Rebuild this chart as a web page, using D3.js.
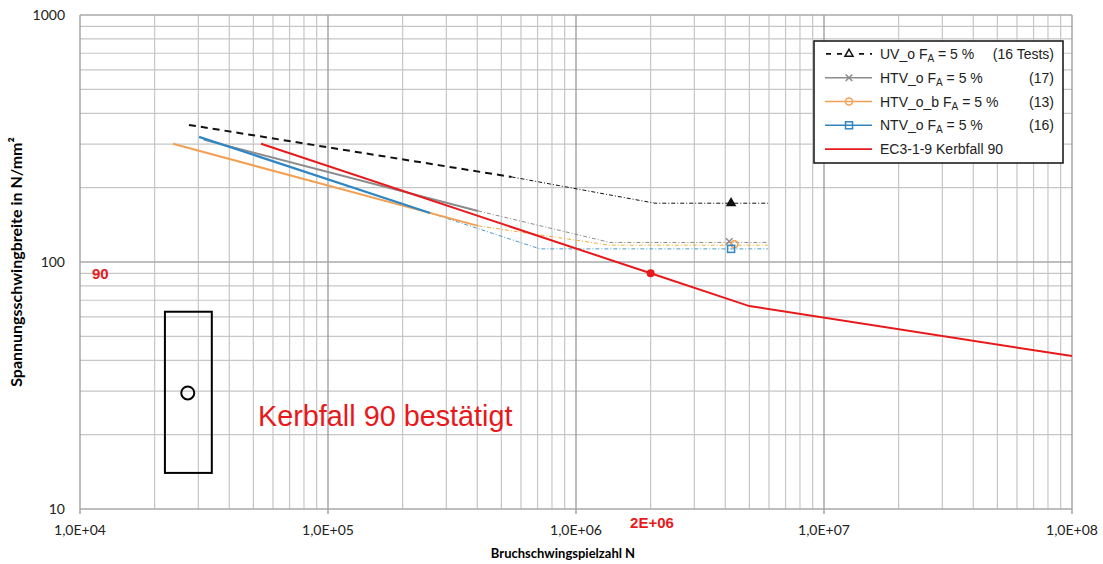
<!DOCTYPE html>
<html>
<head>
<meta charset="utf-8">
<script src="https://cdn.jsdelivr.net/npm/d3@7"></script>
<style>
  body { margin: 0; background: #fff; }
  text { font-family: "Liberation Sans", Arial, sans-serif; }
  .ax { font-family: Lato, "Liberation Sans", sans-serif; font-size: 14px; fill: #222; }
</style>
</head>
<body>
<div id="chart"></div>
<script>
// --- donnees ---
const xTicks = [1e4, 1e5, 1e6, 1e7, 1e8];
const xTickLabels = ["1,0E+04", "1,0E+05", "1,0E+06", "1,0E+07", "1,0E+08"];
const yTicks = [10, 100, 1000];
const yTickLabels = ["10", "100", "1000"];

// UV_o : partie tiretée + prolongement
const uvN = [2.75e4, 5.5e5];
const uvS = [359, 221];
const uvExtN = [5.5e5, 2.08e6, 5.94e6];
const uvExtS = [221, 173, 173];

// HTV_o
const htvN = [3.15e4, 4.03e5];
const htvS = [313, 161];
const htvExtN = [4.03e5, 1.37e6, 5.94e6];
const htvExtS = [161, 120, 120];

// HTV_o_b
const htvbN = [2.37e4, 4.03e5];
const htvbS = [301, 140];
const htvbExtN = [4.03e5, 1.37e6, 5.94e6];
const htvbExtS = [140, 117, 117];

// NTV_o
const ntvN = [3.02e4, 2.58e5];
const ntvS = [321, 158];
const ntvExtN = [2.58e5, 7.16e5, 5.94e6];
const ntvExtS = [158, 113, 113];

// marqueurs a N = 4,2E+06
const markN = [4.22e6, 4.15e6, 4.35e6, 4.22e6];
const markS = [173, 121, 118, 113];

// EC3-1-9 Kerbfall 90
const ecN = [5.37e4, 2e6, 5e6, 1e8];
const ecS = [301, 90, 66.3, 41.6];

// rectangle et cercle (zone de gauche)
const boxN = [2.2e4, 3.4e4];
const boxS = [14, 62.9];
const circN = 2.72e4, circS = 29.5;

const legendLabels = ["UV_o F", "HTV_o F", "HTV_o_b F", "NTV_o F", "EC3-1-9 Kerbfall 90"];
const legendCounts = ["(16 Tests)", "(17)", "(13)", "(16)", ""];

const W = 1103, H = 564;
const svg = d3.select("#chart").append("svg").attr("width", W).attr("height", H);

const x = d3.scaleLog().domain([1e4, 1e8]).range([80, 1072]);
const y = d3.scaleLog().domain([10, 1000]).range([509, 15]);

// grille
const minorX = [], minorY = [];
for (let d = 1e4; d < 1e8; d *= 10) for (let k = 2; k <= 9; k++) minorX.push(d * k);
for (let d = 10; d < 1000; d *= 10) for (let k = 2; k <= 9; k++) minorY.push(d * k);

const grid = svg.append("g");
grid.selectAll(".mx").data(minorX).join("line")
  .attr("x1", d => x(d)).attr("x2", d => x(d)).attr("y1", y(10)).attr("y2", y(1000))
  .attr("stroke", "#c6c6c6").attr("stroke-width", 1.2);
grid.selectAll(".my").data(minorY).join("line")
  .attr("y1", d => y(d)).attr("y2", d => y(d)).attr("x1", x(1e4)).attr("x2", x(1e8))
  .attr("stroke", "#c6c6c6").attr("stroke-width", 1.2);
grid.selectAll(".dx").data(xTicks).join("line")
  .attr("x1", d => x(d)).attr("x2", d => x(d)).attr("y1", y(10)).attr("y2", y(1000) )
  .attr("stroke", "#9a9a9a").attr("stroke-width", 1.3);
grid.selectAll(".dy").data(yTicks).join("line")
  .attr("y1", d => y(d)).attr("y2", d => y(d)).attr("x1", x(1e4)).attr("x2", x(1e8))
  .attr("stroke", "#a8a8a8").attr("stroke-width", 1.3);

// petits traits sous l'axe x
svg.append("g").selectAll("line").data(xTicks).join("line")
  .attr("x1", d => x(d)).attr("x2", d => x(d)).attr("y1", y(10)).attr("y2", y(10) + 5)
  .attr("stroke", "#9a9a9a").attr("stroke-width", 1.3);

// etiquettes des axes
svg.append("g").selectAll("text").data(xTicks).join("text")
  .attr("class", "ax").attr("x", d => x(d)).attr("y", 535).attr("text-anchor", "middle")
  .text((d, i) => xTickLabels[i]);
svg.append("g").selectAll("text").data(yTicks).join("text")
  .attr("class", "ax").attr("x", 65).attr("y", d => y(d) + 5).attr("text-anchor", "end")
  .text((d, i) => yTickLabels[i]);

svg.append("text").attr("x", 563).attr("y", 558).attr("text-anchor", "middle")
  .style("font-family", "Lato, sans-serif").style("font-weight", "bold").style("font-size", "13px")
  .text("Bruchschwingspielzahl N");
svg.append("text").attr("transform", "translate(22,262) rotate(-90)").attr("text-anchor", "middle")
  .style("font-family", "Lato, sans-serif").style("font-weight", "bold").style("font-size", "16px")
  .text("Spannungsschwingbreite in N/mm²");

const line = d3.line().x(d => x(d[0])).y(d => y(d[1]));
const zipD = (a, b) => a.map((v, i) => [v, b[i]]);

const cUV = "#111", cHTV = "#8c8c8c", cHTVb = "#f2a154", cNTV = "#2f86c4", cEC = "#e8191b";

// prolongements en tiret-point
[[uvExtN, uvExtS, cUV], [htvExtN, htvExtS, cHTV], [htvbExtN, htvbExtS, "#f0b040"], [ntvExtN, ntvExtS, "#4a9ad0"]]
  .forEach(s => {
    svg.append("path").attr("d", line(zipD(s[0], s[1]))).attr("fill", "none")
      .attr("stroke", s[2]).attr("stroke-width", 1).attr("stroke-dasharray", "4,2,1,2");
  });

// parties pleines
svg.append("path").attr("d", line(zipD(htvbN, htvbS))).attr("fill", "none").attr("stroke", cHTVb).attr("stroke-width", 2);
svg.append("path").attr("d", line(zipD(htvN, htvS))).attr("fill", "none").attr("stroke", cHTV).attr("stroke-width", 2);
svg.append("path").attr("d", line(zipD(ntvN, ntvS))).attr("fill", "none").attr("stroke", cNTV).attr("stroke-width", 2.2);
svg.append("path").attr("d", line(zipD(uvN, uvS))).attr("fill", "none").attr("stroke", cUV).attr("stroke-width", 2).attr("stroke-dasharray", "7,5");
svg.append("path").attr("d", line(zipD(ecN, ecS))).attr("fill", "none").attr("stroke", cEC).attr("stroke-width", 2);

// point 2E+06
svg.append("circle").attr("cx", x(ecN[1])).attr("cy", y(ecS[1])).attr("r", 4).attr("fill", cEC);

// marqueurs
function marker(g, type, cx, cy, col) {
  if (type === "tri") {
    g.append("path").attr("d", d3.symbol(d3.symbolTriangle, 28)()).attr("transform", `translate(${cx},${cy})`)
      .attr("fill", "none").attr("stroke", col).attr("stroke-width", 1.5);
  } else if (type === "x") {
    g.append("path").attr("d", d3.symbol(d3.symbolX, 30)()).attr("transform", `translate(${cx},${cy})`)
      .attr("fill", "none").attr("stroke", col).attr("stroke-width", 1.5);
  } else if (type === "o") {
    g.append("circle").attr("cx", cx).attr("cy", cy).attr("r", 3.5).attr("fill", "none").attr("stroke", col).attr("stroke-width", 1.5);
  } else if (type === "sq") {
    g.append("rect").attr("x", cx - 3.5).attr("y", cy - 3.5).attr("width", 7).attr("height", 7).attr("fill", "none").attr("stroke", col).attr("stroke-width", 1.5);
  }
}
const types = ["tri", "x", "o", "sq"];
const cols = [cUV, cHTV, cHTVb, cNTV];
const mg = svg.append("g");
types.forEach((t, i) => marker(mg, t, x(markN[i]), y(markS[i]), cols[i]));
// triangle plein sur la courbe UV
mg.select("path").attr("fill", cUV);

// rectangle + cercle
svg.append("rect").attr("x", x(boxN[0])).attr("y", y(boxS[1]))
  .attr("width", x(boxN[1]) - x(boxN[0])).attr("height", y(boxS[0]) - y(boxS[1]))
  .attr("fill", "none").attr("stroke", "#000").attr("stroke-width", 2);
svg.append("circle").attr("cx", x(circN)).attr("cy", y(circS)).attr("r", 6.5)
  .attr("fill", "none").attr("stroke", "#000").attr("stroke-width", 2);

// textes rouges
svg.append("text").attr("x", 92).attr("y", 279).attr("fill", cEC)
  .style("font-weight", "bold").style("font-size", "15px").text("90");
svg.append("text").attr("x", 652).attr("y", 528).attr("text-anchor", "middle").attr("fill", cEC)
  .style("font-weight", "bold").style("font-size", "15px").text("2E+06");
svg.append("text").attr("x", 258).attr("y", 426).attr("fill", cEC)
  .style("font-size", "28.8px").text("Kerbfall 90 bestätigt");

// legende
const lg = svg.append("g");
lg.append("rect").attr("x", 814).attr("y", 41).attr("width", 249).attr("height", 122)
  .attr("fill", "#fff").attr("stroke", "#111").attr("stroke-width", 1.5);
const legCols = [cUV, cHTV, cHTVb, cNTV, cEC];
const legY = d3.scaleBand().domain(d3.range(5)).range([42, 161]);
legendLabels.forEach((lab, i) => {
  const yy = legY(i) + legY.bandwidth() / 2;
  const ln = lg.append("line").attr("x1", 825).attr("x2", 872).attr("y1", yy).attr("y2", yy)
    .attr("stroke", legCols[i]).attr("stroke-width", i === 0 ? 1.8 : 1.6);
  if (i === 0) ln.attr("stroke-dasharray", "5,6").attr("x1", 826);
  if (i < 4) {
    const mk = lg.append("g");
    if (i === 0) mk.append("rect").attr("x", 842).attr("y", yy - 5).attr("width", 14).attr("height", 10).attr("fill", "#fff");
    marker(mk, types[i], 849, yy, legCols[i]);
  }
  const t = lg.append("text").attr("x", 880).attr("y", yy + 5).style("font-size", "14px").attr("fill", "#222");
  t.append("tspan").text(lab);
  if (i < 4) {
    t.append("tspan").attr("dy", 3).style("font-size", "10px").text("A");
    t.append("tspan").attr("dy", -3).text(" = 5 %");
  }
  lg.append("text").attr("x", 1054).attr("y", yy + 5).attr("text-anchor", "end")
    .style("font-size", "14px").attr("fill", "#222").text(legendCounts[i]);
});
</script>
</body>
</html>
